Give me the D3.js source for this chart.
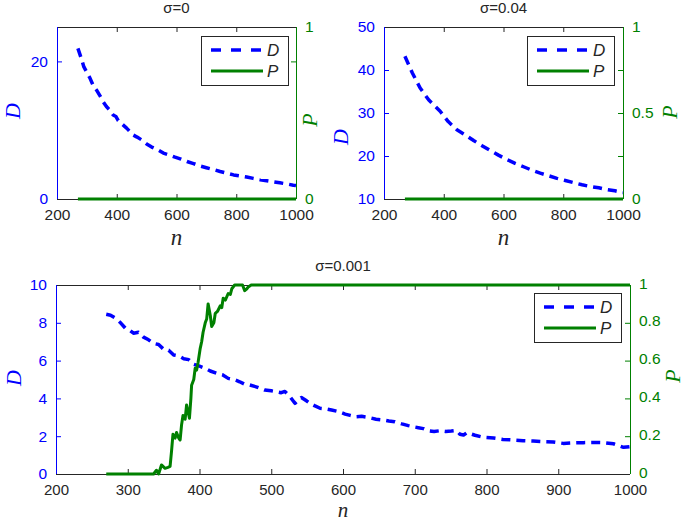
<!DOCTYPE html>
<html><head><meta charset="utf-8">
<script src="https://cdn.jsdelivr.net/npm/d3@7"></script>
<style>
body{margin:0;background:#fff;}
svg{display:block;}
text{font-family:"Liberation Sans",Arial,Helvetica,sans-serif;}
</style></head>
<body>
<svg id="chart" width="685" height="522"></svg>
<script>
// ---- data ----
const titles = ["σ=0", "σ=0.04", "σ=0.001"];

const nD0 = [270,280,290,300,310,322,333,344,355,366,377,388,397,405,415,433,444,455,468,483,500,517,535,556,575,595,615,635,657,679,700,722,746,768,791,813,835,857,880,902,924,946,968,991,1000];
const D0  = [21.9,20.6,19.2,18.4,17.6,16.4,15.8,15.0,14.1,13.4,12.9,12.2,12.0,11.4,11.0,10.3,9.8,9.3,9.0,8.6,8.0,7.55,7.2,6.67,6.4,6.08,5.8,5.45,5.15,4.8,4.55,4.3,4.0,3.75,3.5,3.35,3.2,3.0,2.8,2.65,2.5,2.35,2.2,2.0,1.95];
const nP0 = [270,1000];
const P0  = [0,0];

const nD1 = [270,295,321,350,388,415,444,472,500,528,555,583,611,639,667,695,723,751,779,807,835,863,891,919,946,973,1000];
const D1  = [43.2,39.3,35.8,33.0,30.4,28.0,26.1,24.9,23.6,22.4,21.3,20.2,19.2,18.3,17.5,16.7,16.0,15.4,14.8,14.3,13.8,13.3,12.9,12.6,12.2,11.9,11.5];
const nP1 = [270,1000];
const P1  = [0,0];

const nD2 = [270,276,283,290,297,303,308,315,322,329,336,343,350,357,364,371,378,385,392,401,408,415,424,432,440,448,456,463,470,480,491,500,508,514,519,526,533,538,542,548,554,561,568,576,584,594,603,610,617,626,635,646,656,664,672,682,691,698,705,712,719,727,735,743,751,758,763,768,773,784,796,810,823,837,851,865,879,893,907,921,935,949,963,977,991,1000];
const D2  = [8.45,8.4,8.24,8.0,7.7,7.6,7.45,7.5,7.24,7.1,6.91,6.85,6.6,6.55,6.3,6.25,6.1,6.05,5.8,5.69,5.59,5.45,5.33,5.25,5.06,5.0,4.88,4.75,4.71,4.6,4.44,4.4,4.35,4.3,4.37,4.1,3.74,3.9,4.05,3.9,3.74,3.6,3.48,3.45,3.39,3.3,3.17,3.1,3.03,3.05,3.0,2.9,2.86,2.8,2.77,2.65,2.56,2.5,2.45,2.4,2.29,2.25,2.29,2.25,2.27,2.3,2.1,2.06,2.19,2.05,1.94,1.9,1.83,1.8,1.76,1.74,1.71,1.69,1.62,1.65,1.66,1.67,1.66,1.6,1.41,1.45];
const nP2 = [270,300,336,340,343,347,352,356,359,361,363,366,368,371,373,375,377,380,382,384,386,388,389,392,394,396,398,401,403,405,408,410,412,415,417,420,422,425,429,431,433,436,440,443,445,449,455,460,463,466,468,472,1000];
const P2  = [0,0,0,0.02,0,0.048,0.03,0.035,0.04,0.12,0.21,0.19,0.22,0.19,0.18,0.26,0.31,0.29,0.365,0.33,0.295,0.40,0.47,0.50,0.56,0.55,0.59,0.665,0.70,0.75,0.80,0.82,0.90,0.84,0.78,0.80,0.85,0.86,0.89,0.88,0.93,0.92,0.955,0.95,0.98,1.0,1.0,1.0,0.97,0.98,0.99,1.0,1.0];

const xTicksTop = [200,400,600,800,1000];
const xTicksBottom = [200,300,400,500,600,700,800,900,1000];
const yTicksL0 = [0,20], yLabL0 = ["0","20"];
const yTicksR0 = [0,0.8,1], yLabR0 = ["0","","1"];
const yTicksL1 = [10,20,30,40,50], yLabL1 = ["10","20","30","40","50"];
const yTicksR1 = [0,0.25,0.5,0.75,1], yLabR1 = ["0","","0.5","","1"];
const yTicksL2 = [0,2,4,6,8,10], yLabL2 = ["0","2","4","6","8","10"];
const yTicksR2 = [0,0.2,0.4,0.6,0.8,1], yLabR2 = ["0","0.2","0.4","0.6","0.8","1"];

// ---- drawing ----
const BLUE = "#0000ff", GREEN = "#008000", DARK = "#262626";
const svg = d3.select("#chart");
const SERIF = "'Liberation Serif','Times New Roman',serif";

function panel(o) {
  const g = svg.append("g");
  const x = d3.scaleLinear().domain([200,1000]).range([o.x0,o.x1]);
  const yL = d3.scaleLinear().domain(o.yDomL).range([o.y1,o.y0]);
  const yR = d3.scaleLinear().domain([0,1]).range([o.y1,o.y0]);

  g.append("g").attr("transform",`translate(0,${o.y1})`)
    .call(d3.axisBottom(x).tickValues(o.xTicks).tickFormat(d3.format("d")).tickSizeInner(-5).tickSizeOuter(0).tickPadding(o.xPad))
    .call(a=>{a.select(".domain").remove();a.selectAll("line").attr("stroke",DARK);
      a.selectAll("text").attr("fill",DARK).style("font-size",o.xSize);});
  g.append("g").attr("transform",`translate(0,${o.y0})`)
    .call(d3.axisTop(x).tickValues(o.xTicks).tickFormat("").tickSizeInner(-5).tickSizeOuter(0))
    .call(a=>{a.select(".domain").remove();a.selectAll("line").attr("stroke",DARK);});

  g.append("g").attr("transform",`translate(${o.x0},0)`)
    .call(d3.axisLeft(yL).tickValues(o.yTicksL).tickFormat((d,i)=>o.yLabL[i]).tickSizeInner(-5).tickSizeOuter(0).tickPadding(9))
    .call(a=>{a.select(".domain").remove();a.selectAll("line").attr("stroke",BLUE);
      a.selectAll("text").attr("fill",BLUE).style("font-size","15.5px");});
  g.append("g").attr("transform",`translate(${o.x1},0)`)
    .call(d3.axisRight(yR).tickValues(o.yTicksR).tickFormat((d,i)=>o.yLabR[i]).tickSizeInner(-5).tickSizeOuter(0).tickPadding(9))
    .call(a=>{a.select(".domain").remove();a.selectAll("line").attr("stroke",GREEN);
      a.selectAll("text").attr("fill",GREEN).style("font-size","15.5px").attr("dy",o.rDy);});

  g.append("line").attr("x1",o.x0).attr("x2",o.x1).attr("y1",o.y0+0.5).attr("y2",o.y0+0.5).attr("stroke",DARK).attr("stroke-width",1);
  g.append("line").attr("x1",o.x0).attr("x2",o.x1).attr("y1",o.y1+0.5).attr("y2",o.y1+0.5).attr("stroke",DARK).attr("stroke-width",1);
  g.append("line").attr("x1",o.x0+0.5).attr("x2",o.x0+0.5).attr("y1",o.y0).attr("y2",o.y1).attr("stroke",BLUE).attr("stroke-width",1);
  g.append("line").attr("x1",o.x1+0.5).attr("x2",o.x1+0.5).attr("y1",o.y0).attr("y2",o.y1).attr("stroke",GREEN).attr("stroke-width",1);

  const lineD = d3.line().x((d,i)=>x(o.nD[i])).y(d=>yL(d));
  g.append("path").datum(o.D).attr("d",lineD).attr("fill","none").attr("stroke",BLUE)
    .attr("stroke-width",3.5).attr("stroke-dasharray","9,6").attr("stroke-linejoin","round");
  const lineP = d3.line().x((d,i)=>x(o.nP[i])).y(d=>yR(d));
  g.append("path").datum(o.P).attr("d",lineP).attr("fill","none").attr("stroke",GREEN)
    .attr("stroke-width",3).attr("stroke-linejoin","round");

  g.append("text").attr("x",(o.x0+o.x1)/2).attr("y",o.y0-14).attr("text-anchor","middle")
    .attr("fill",DARK).style("font-size","15px").text(o.title);
  g.append("text").attr("x",(o.x0+o.x1)/2).attr("y",o.y1+o.nLabDy).attr("text-anchor","middle")
    .attr("fill",DARK).style("font-family",SERIF)
    .style("font-style","italic").style("font-size",o.nSize).text("n");
  g.append("text").attr("transform",`translate(${o.dLabX},${o.dLabY}) rotate(-90)`).attr("text-anchor","middle")
    .attr("fill",BLUE).style("font-family",SERIF)
    .style("font-style","italic").style("font-size","22px").text("D");
  g.append("text").attr("transform",`translate(${o.pLabX},${o.pLabY}) rotate(-90)`).attr("text-anchor","middle")
    .attr("fill",GREEN).style("font-family",SERIF)
    .style("font-style","italic").style("font-size","22px").text("P");

  const lg = g.append("g").attr("transform",`translate(${o.lx},${o.ly})`);
  lg.append("rect").attr("x",0.5).attr("y",0.5).attr("width",87).attr("height",49).attr("fill","#fff").attr("stroke",DARK).attr("stroke-width",1);
  lg.append("line").attr("x1",10).attr("x2",62).attr("y1",14).attr("y2",14).attr("stroke",BLUE).attr("stroke-width",3.5).attr("stroke-dasharray","10,10");
  lg.append("line").attr("x1",10).attr("x2",62).attr("y1",35).attr("y2",35).attr("stroke",GREEN).attr("stroke-width",3);
  lg.append("text").attr("x",66).attr("y",20).style("font-style","italic").style("font-size","17px").attr("fill",DARK).text("D");
  lg.append("text").attr("x",66).attr("y",41).style("font-style","italic").style("font-size","17px").attr("fill",DARK).text("P");
}

panel({x0:57,x1:296,y0:27,y1:199,yDomL:[0,25],xTicks:xTicksTop,yTicksL:yTicksL0,yLabL:yLabL0,yTicksR:yTicksR0,yLabR:yLabR0,
  nD:nD0,D:D0,nP:nP0,P:P0,title:titles[0],dLabX:20,dLabY:111,pLabX:317,pLabY:120,nLabDy:46,nSize:"23px",xPad:10,xSize:"15.5px",rDy:"0.32em",lx:201,ly:36});
panel({x0:384,x1:623,y0:27,y1:199,yDomL:[10,50],xTicks:xTicksTop,yTicksL:yTicksL1,yLabL:yLabL1,yTicksR:yTicksR1,yLabR:yLabR1,
  nD:nD1,D:D1,nP:nP1,P:P1,title:titles[1],dLabX:348,dLabY:137,pLabX:677,pLabY:112,nLabDy:46,nSize:"23px",xPad:10,xSize:"15.5px",rDy:"0.32em",lx:527,ly:36});
panel({x0:56,x1:630,y0:285,y1:474,yDomL:[0,10],xTicks:xTicksBottom,yTicksL:yTicksL2,yLabL:yLabL2,yTicksR:yTicksR2,yLabR:yLabR2,
  nD:nD2,D:D2,nP:nP2,P:P2,title:titles[2],dLabX:21,dLabY:378,pLabX:680,pLabY:376,nLabDy:43,nSize:"21px",xPad:10.5,xSize:"15px",rDy:"0.2em",lx:534,ly:293});
</script>
</body></html>
